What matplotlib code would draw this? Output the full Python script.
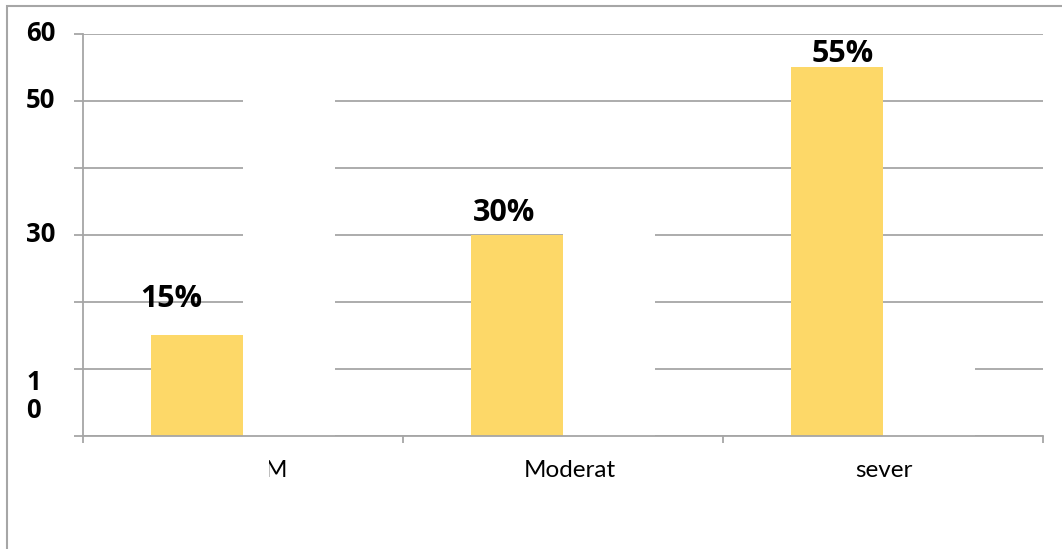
import numpy as np
import matplotlib
matplotlib.use("Agg")
import matplotlib.pyplot as plt
from matplotlib.patches import Rectangle
from matplotlib.transforms import Bbox, ScaledTranslation

plt.rcParams["font.family"] = ["Lato", "DejaVu Sans"]

# data
categories = ["M", "Moderat", "sever"]
values = [15, 30, 55]
hidden_values = [55, 35, 15]   # second series, drawn in white
value_labels = ["15%", "30%", "55%"]
y_ticks = [0, 10, 20, 30, 40, 50, 60]
y_tick_labels = ["", "1\n0", "", "30", "", "50", "60"]

YELLOW = "#FDD868"
GRAY = "#A6A6A6"
BOLD_FONT = ["Open Sans", "DejaVu Sans"]

fig = plt.figure(figsize=(10.62, 5.49), dpi=100)
ax = fig.add_axes([83 / 1062, (549 - 436) / 549, 960 / 1062, (436 - 33.7) / 549])

x = np.arange(len(categories))
w = 0.2875
ax.bar(x - w / 2, values, w, color=YELLOW, zorder=2)
ax.bar(x + w / 2, hidden_values, w, color="white", zorder=2)

ax.set_xlim(-0.5, len(categories) - 0.5)
ax.set_ylim(0, 60)
ax.set_axisbelow(True)
ax.yaxis.grid(True, color=GRAY, linewidth=1.3)

for side in ["top", "right"]:
    ax.spines[side].set_visible(False)
for side in ["left", "bottom"]:
    ax.spines[side].set_color(GRAY)
    ax.spines[side].set_linewidth(1.3)

ax.set_yticks(y_ticks, y_tick_labels)
ax.tick_params(axis="y", length=6.5, width=1.3, color=GRAY, pad=34.5,
               labelsize=18.5)
for lbl in ax.get_yticklabels():
    lbl.set_family(BOLD_FONT)
    lbl.set_fontweight("bold")
    lbl.set_horizontalalignment("left")
    if "\n" in lbl.get_text():
        lbl.set_verticalalignment("top")
        lbl.set_linespacing(1.05)
    else:
        lbl.set_verticalalignment("center")

ax.set_xticks(np.arange(len(categories) + 1) - 0.5)
ax.set_xticklabels([])
ax.tick_params(axis="x", which="major", length=5, width=1.3, color=GRAY)
ax.set_xticks(x, categories, minor=True)
ax.tick_params(axis="x", which="minor", length=0, pad=17.5, labelsize=17.5)

label_dx = [-26, -13, 6]
label_dy = [28, 14, 5]
for xi, v, txt, dx, dy in zip(x, values, value_labels, label_dx, label_dy):
    ax.annotate(txt, xy=(xi - w / 2, v), xytext=(dx * 0.72, dy * 0.72),
                textcoords="offset points", ha="center", va="baseline",
                fontsize=22, fontweight="bold", family=BOLD_FONT)

fig.add_artist(Rectangle((7 / 1062, -0.1), 1.2, 1 - 6 / 549 + 0.1,
                         transform=fig.transFigure, fill=False,
                         edgecolor=GRAY, linewidth=1.5))

fig.canvas.draw()
x_label_dx = [33, 7, 1]
for lbl, dx in zip(ax.get_xticklabels(minor=True), x_label_dx):
    lbl.set_transform(lbl.get_transform()
                      + ScaledTranslation(dx / 100, 0, fig.dpi_scale_trans))
ax.get_xticklabels(minor=True)[0].set_clip_box(Bbox([[269, 0], [1062, 549]]))
ax.get_xticklabels(minor=True)[0].set_clip_on(True)

fig.savefig("out.png", dpi=100)
